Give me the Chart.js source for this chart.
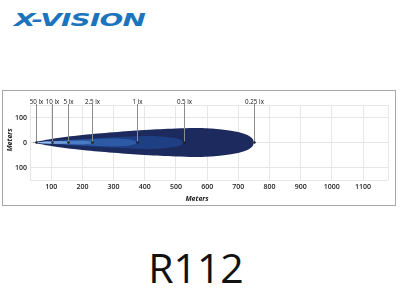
<!DOCTYPE html>
<html>
<head>
<meta charset="utf-8">
<script src="https://cdn.jsdelivr.net/npm/chart.js@4/dist/chart.umd.min.js"></script>
<style>
  body { margin: 0; width: 400px; height: 300px; background: #fff; position: relative; overflow: hidden; }
  #logo {
    position: absolute; left: 14px; top: 11px;
    font: italic 900 18px/18px "DejaVu Sans", sans-serif;
    color: #1b74bd; letter-spacing: -0.5px;
    transform: scaleX(1.55); transform-origin: left top;
    white-space: nowrap;
  }
  #box {
    position: absolute; left: 2px; top: 90px;
    width: 392px; height: 114px;
    border: 1px solid #a6a6a6;
  }
  #model {
    position: absolute; left: 0; top: 247px; width: 392px; text-align: center;
    font: 400 41px/41px "Open Sans", sans-serif; color: #111;
  }
</style>
</head>
<body>
<div id="logo">X-VISION</div>
<div id="box"><canvas id="beamChart" width="392" height="114"></canvas></div>
<div id="model">R112</div>
<script>
// isolux contours, outermost first
const beamLabels = ['0.25 lx', '0.5 lx', '1 lx', '2.5 lx', '5 lx', '10 lx', '50 lx'];

// distance (m) and half width (m) of each contour
const dist025 = [40, 100, 200, 300, 400, 500, 575, 640, 690, 725, 745, 750];
const half025 = [0, 14, 30, 41, 50, 56, 58, 53, 44, 32, 16, 0];
const dist05 = [40, 100, 200, 300, 380, 440, 490, 515, 525];
const half05 = [0, 6, 14, 21, 25, 25, 19, 11, 0];
const dist1 = [40, 100, 200, 270, 320, 355, 370, 375];
const half1 = [0, 5, 11, 15, 15, 11, 6, 0];
const dist25 = [40, 100, 160, 200, 220, 229, 231];
const half25 = [0, 4, 7, 7, 5, 2, 0];
const dist5 = [40, 80, 120, 145, 152, 154];
const half5 = [0, 3.5, 5, 4, 2, 0];
const dist10 = [40, 70, 95, 102, 104];
const half10 = [0, 2.5, 2.5, 1.2, 0];
const dist50 = [36, 45, 50, 52];
const half50 = [0, 1.3, 0.9, 0];

const beamDists = [dist025, dist05, dist1, dist25, dist5, dist10, dist50];
const beamHalves = [half025, half05, half1, half25, half5, half10, half50];

const xTicks = [100, 200, 300, 400, 500, 600, 700, 800, 900, 1000, 1100];
const yTicks = [-100, 0, 100];

const beamColors = ['#1c2a5e', '#1f3f84', '#2c5aa5', '#4a7cc4', '#729fd8', '#9cc0ea', '#d2e4f8'];

const xMin = 32, xMax = 1180, yMin = -150, yMax = 150;

const datasets = [];
beamDists.forEach((dists, i) => {
  const upper = dists.map((d, k) => ({ x: d, y: beamHalves[i][k] }));
  const lower = dists.map((d, k) => ({ x: d, y: -beamHalves[i][k] }));
  const common = {
    borderWidth: 0,
    borderColor: beamColors[i],
    backgroundColor: beamColors[i],
    pointRadius: 0,
    tension: 0.4,
    order: 10 - i,
  };
  datasets.push({ ...common, label: beamLabels[i], data: upper, fill: false });
  datasets.push({ ...common, label: beamLabels[i] + ' low', data: lower, fill: '-1' });
});

const leaderPlugin = {
  id: 'leaders',
  afterDatasetsDraw(chart) {
    const { ctx, chartArea, scales: { x, y } } = chart;
    ctx.save();
    ctx.font = '500 8px "Open Sans", sans-serif';
    ctx.textAlign = 'center';
    ctx.textBaseline = 'alphabetic';
    beamDists.forEach((dists, i) => {
      const reach = dists[dists.length - 1];
      const px = Math.round(x.getPixelForValue(reach)) + 0.5;
      const py = y.getPixelForValue(0);
      ctx.strokeStyle = '#8c8c8c';
      ctx.lineWidth = 1;
      ctx.beginPath();
      ctx.moveTo(px, py);
      ctx.lineTo(px, chartArea.top - 1);
      ctx.stroke();
      ctx.fillStyle = '#222';
      ctx.beginPath();
      ctx.arc(px, py, 1.2, 0, Math.PI * 2);
      ctx.fill();
      // narrow lettering like the original
      ctx.save();
      ctx.translate(px, chartArea.top - 1.5);
      ctx.scale(0.78, 1);
      ctx.fillStyle = '#111';
      ctx.fillText(beamLabels[i], 0, 0);
      ctx.restore();
    });
    ctx.restore();
  },
};

const axisTitlePlugin = {
  id: 'axisTitles',
  afterDraw(chart) {
    const { ctx } = chart;
    ctx.save();
    ctx.font = 'italic bold 7px "Open Sans", sans-serif';
    ctx.fillStyle = '#222';
    ctx.textAlign = 'center';
    ctx.textBaseline = 'middle';
    ctx.fillText('Meters', 194, 108);
    ctx.translate(7, 49);
    ctx.rotate(-Math.PI / 2);
    ctx.fillText('Meters', 0, 0);
    ctx.restore();
  },
};

new Chart(document.getElementById('beamChart'), {
  type: 'line',
  data: { datasets },
  options: {
    responsive: false,
    animation: false,
    events: [],
    layout: { padding: { top: 14, right: 7, left: 0, bottom: 0 } },
    plugins: {
      legend: { display: false },
      tooltip: { enabled: false },
    },
    scales: {
      x: {
        type: 'linear',
        min: xMin,
        max: xMax,
        afterBuildTicks: (scale) => {
          scale.ticks = [xMin, ...xTicks, xMax].map((v) => ({ value: v }));
        },
        afterFit: (scale) => { scale.height = 25; },
        ticks: {
          autoSkip: false,
          maxRotation: 0,
          padding: 3,
          color: '#222',
          font: { family: 'Open Sans', size: 7, weight: '600' },
          callback: (v) => (xTicks.includes(v) ? String(v) : ''),
        },
        grid: { color: '#e6e6e6', drawTicks: false },
        border: { display: false },
      },
      y: {
        type: 'linear',
        min: yMin,
        max: yMax,
        afterBuildTicks: (scale) => {
          scale.ticks = [yMin, ...yTicks, yMax].map((v) => ({ value: v }));
        },
        afterFit: (scale) => { scale.width = 27; },
        ticks: {
          autoSkip: false,
          padding: 3,
          color: '#222',
          font: { family: 'Open Sans', size: 7, weight: '600' },
          callback: (v) => (yTicks.includes(v) ? String(Math.abs(v)) : ''),
        },
        grid: { color: '#e6e6e6', drawTicks: false },
        border: { display: false },
      },
    },
  },
  plugins: [leaderPlugin, axisTitlePlugin],
});
</script>
</body>
</html>
